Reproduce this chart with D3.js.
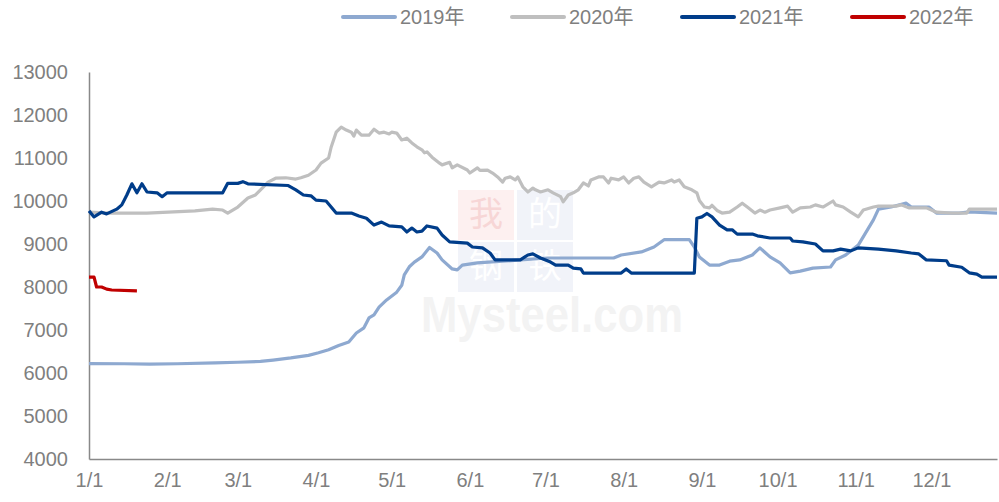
<!DOCTYPE html>
<html>
<head>
<meta charset="utf-8">
<script src="https://cdn.jsdelivr.net/npm/d3@7/dist/d3.min.js"></script>
<style>
  html, body { margin: 0; padding: 0; background: #fff; }
  svg { display: block; }
  text { font-family: "Liberation Sans", Arial, "Noto Sans CJK SC", sans-serif; }
</style>
</head>
<body>
<svg id="chart" width="999" height="502"></svg>
<script>
// ---------------- data ----------------
const seriesNames = ["2019年", "2020年", "2021年", "2022年"];
const yTicks = [4000, 5000, 6000, 7000, 8000, 9000, 10000, 11000, 12000, 13000];
const xTickLabels = ["01-01","02-01","03-01","04-01","05-01","06-01","07-01","08-01","09-01","10-01","11-01","12-01"];

const s2019 = [
  ["01-01",6220],["01-15",6215],["01-25",6205],["02-05",6215],["02-20",6235],["03-01",6250],
  ["03-10",6270],["03-15",6300],["03-22",6350],["03-29",6410],["04-02",6470],["04-06",6540],
  ["04-10",6640],["04-14",6720],["04-17",6930],["04-20",7050],["04-22",7280],["04-24",7350],
  ["04-26",7530],["04-29",7700],["05-03",7880],["05-05",8040],["05-06",8280],["05-08",8470],
  ["05-10",8580],["05-13",8700],["05-16",8920],["05-19",8790],["05-21",8630],["05-25",8420],
  ["05-27",8400],["05-29",8510],["06-04",8560],["06-21",8630],["07-02",8675],["07-28",8675],
  ["07-31",8745],["08-08",8815],["08-13",8930],["08-17",9100],["08-27",9100],["08-29",8930],
  ["08-31",8700],["09-04",8510],["09-08",8510],["09-12",8600],["09-16",8630],["09-19",8700],
  ["09-21",8745],["09-24",8910],["09-28",8700],["10-02",8560],["10-06",8330],["10-10",8370],
  ["10-15",8440],["10-22",8465],["10-24",8630],["10-28",8745],["11-02",8975],["11-08",9560],
  ["11-10",9810],["11-15",9860],["11-21",9950],["11-23",9860],["11-30",9860],["12-03",9720],
  ["12-12",9720],["12-16",9745],["12-27",9720]
];

const s2020 = [
  ["01-01",9740],["01-09",9720],["01-24",9720],["02-12",9770],["02-19",9810],["02-23",9790],
  ["02-25",9720],["03-01",9860],["03-05",10070],["03-08",10140],["03-10",10260],["03-13",10440],
  ["03-16",10530],["03-20",10540],["03-24",10510],["03-26",10540],["03-29",10600],["04-01",10720],
  ["04-03",10880],["04-06",11000],["04-07",11250],["04-09",11600],["04-11",11720],["04-13",11650],
  ["04-15",11600],["04-16",11510],["04-17",11650],["04-19",11530],["04-22",11530],["04-24",11670],
  ["04-26",11580],["04-28",11600],["04-30",11560],["05-01",11600],["05-03",11580],["05-05",11420],
  ["05-07",11460],["05-09",11350],["05-11",11260],["05-13",11190],["05-14",11120],["05-15",11140],
  ["05-17",11020],["05-20",10880],["05-21",10840],["05-24",10900],["05-25",10770],["05-27",10840],
  ["05-31",10720],["06-01",10650],["06-04",10770],["06-05",10710],["06-08",10720],["06-10",10650],
  ["06-12",10560],["06-14",10440],["06-15",10530],["06-17",10560],["06-19",10490],["06-20",10560],
  ["06-22",10330],["06-24",10210],["06-26",10300],["06-27",10260],["06-29",10210],["07-02",10260],
  ["07-04",10190],["07-07",10100],["07-08",9980],["07-10",10140],["07-12",10190],["07-14",10260],
  ["07-16",10420],["07-18",10350],["07-19",10490],["07-22",10560],["07-24",10560],["07-26",10420],
  ["07-27",10530],["07-30",10490],["08-01",10560],["08-03",10420],["08-05",10530],["08-07",10560],
  ["08-09",10440],["08-12",10330],["08-15",10440],["08-17",10420],["08-20",10490],["08-21",10440],
  ["08-23",10490],["08-25",10330],["08-28",10260],["08-30",10190],["08-31",10010],["09-02",9860],
  ["09-04",9840],["09-05",9900],["09-07",9780],["09-09",9720],["09-12",9740],["09-15",9860],
  ["09-17",9950],["09-19",9860],["09-22",9720],["09-24",9790],["09-26",9740],["09-28",9790],
  ["10-02",9840],["10-05",9880],["10-07",9740],["10-10",9840],["10-14",9860],["10-16",9910],
  ["10-19",9860],["10-23",10000],["10-24",9910],["10-27",9860],["10-30",9740],["11-02",9630],
  ["11-04",9790],["11-08",9860],["11-10",9880],["11-17",9880],["11-19",9910],["11-22",9840],
  ["11-29",9840],["12-03",9740],["12-09",9720],["12-15",9720],["12-16",9810],["12-27",9810]
];

const s2021 = [
  ["01-01",9770],["01-03",9630],["01-06",9740],["01-08",9700],["01-12",9810],["01-14",9910],
  ["01-16",10140],["01-18",10400],["01-20",10190],["01-22",10400],["01-24",10210],["01-28",10190],
  ["01-30",10100],["02-01",10190],["02-23",10190],["02-25",10410],["03-01",10410],["03-03",10450],
  ["03-05",10400],["03-21",10360],["03-24",10260],["03-27",10140],["03-30",10120],["04-01",10020],
  ["04-05",10000],["04-07",9860],["04-09",9720],["04-15",9720],["04-18",9650],["04-21",9600],
  ["04-24",9440],["04-27",9510],["04-30",9420],["05-05",9400],["05-07",9280],["05-09",9370],
  ["05-11",9280],["05-13",9300],["05-15",9420],["05-19",9370],["05-21",9210],["05-24",9050],
  ["05-31",9020],["06-02",8930],["06-06",8910],["06-09",8790],["06-11",8630],["06-21",8630],
  ["06-24",8745],["06-26",8770],["06-29",8675],["07-03",8580],["07-05",8510],["07-10",8510],
  ["07-12",8440],["07-15",8420],["07-16",8325],["07-31",8325],["08-02",8420],["08-04",8325],
  ["08-29",8325],["08-30",9600],["09-01",9630],["09-03",9710],["09-05",9630],["09-08",9440],
  ["09-11",9330],["09-13",9330],["09-15",9230],["09-21",9230],["09-23",9190],["09-28",9140],
  ["10-06",9140],["10-07",9070],["10-11",9050],["10-16",9000],["10-19",8840],["10-23",8840],
  ["10-26",8880],["10-30",8840],["11-02",8910],["11-10",8880],["11-17",8840],["11-23",8790],
  ["11-26",8770],["11-29",8630],["12-07",8610],["12-08",8510],["12-13",8460],["12-16",8330],
  ["12-19",8300],["12-21",8230],["12-27",8230]
];

const s2022 = [
  ["01-01",8230],["01-03",8230],["01-04",8000],["01-06",8000],["01-08",7950],["01-10",7930],["01-20",7910]
];

const seriesData = [s2019, s2020, s2021, s2022];
const seriesColors = ["#8EA9D0", "#BFBFBF", "#003D8A", "#C00000"];

// ---------------- chart ----------------
const W = 999, H = 502;
const margin = {left: 89, right: 2, top: 72, bottom: 43};
const parse = s => d3.timeParse("%Y-%m-%d")("2021-" + s);

const svg = d3.select("#chart");

const x = d3.scaleTime()
  .domain([parse("01-01"), parse("12-27")])
  .range([margin.left, W - margin.right]);
const y = d3.scaleLinear()
  .domain([4000, 13000])
  .range([H - margin.bottom, margin.top]);

// watermark (very faint, behind the lines)
const wm = svg.append("g").attr("class", "watermark");
const cells = [
  {c: "我", col: 0, row: 0, bg: "#FDF0F0", fg: "#F7D6D6"},
  {c: "的", col: 1, row: 0, bg: "#F1F3F9", fg: "#FFFFFF"},
  {c: "钢", col: 0, row: 1, bg: "#F1F3F9", fg: "#FFFFFF"},
  {c: "铁", col: 1, row: 1, bg: "#F1F3F9", fg: "#FFFFFF"}
];
wm.selectAll("rect").data(cells).join("rect")
  .attr("x", d => 458 + d.col * 59)
  .attr("y", d => 190 + d.row * 52)
  .attr("width", 56).attr("height", 50)
  .attr("fill", d => d.bg);
wm.selectAll("text.cjk").data(cells).join("text")
  .attr("class", "cjk")
  .attr("x", d => 458 + d.col * 59 + 28)
  .attr("y", d => 190 + d.row * 52 + 36)
  .attr("text-anchor", "middle")
  .style("font-family", "'Noto Sans CJK SC', sans-serif")
  .style("font-size", "34px")
  .attr("fill", d => d.fg)
  .text(d => d.c);
wm.append("text")
  .attr("x", 421).attr("y", 332)
  .style("font-size", "50px")
  .style("font-weight", "bold")
  .attr("fill", "#F3F3F3")
  .attr("textLength", 262)
  .attr("lengthAdjust", "spacingAndGlyphs")
  .text("Mysteel.com");

// axes
const axisColor = "#898989";
const labelColor = "#7F7F7F";

const xAxis = d3.axisBottom(x)
  .tickValues(xTickLabels.map(parse))
  .tickFormat(d3.timeFormat("%-m/%-d"))
  .tickSize(0)
  .tickPadding(14);
const gx = svg.append("g")
  .attr("transform", `translate(0,${H - margin.bottom})`)
  .call(xAxis);
gx.select(".domain").attr("stroke", axisColor).attr("stroke-width", 1.5);
gx.selectAll("text").attr("fill", labelColor).style("font-size", "20px");

const yAxis = d3.axisLeft(y)
  .tickValues(yTicks)
  .tickFormat(d3.format("d"))
  .tickSize(0)
  .tickPadding(21);
const gy = svg.append("g")
  .attr("transform", `translate(${margin.left},0)`)
  .call(yAxis);
gy.select(".domain").attr("stroke", axisColor).attr("stroke-width", 1.5);
gy.selectAll("text").attr("fill", labelColor).style("font-size", "20px");

// lines
const line = d3.line()
  .x(d => x(parse(d[0])))
  .y(d => y(d[1]));

svg.append("g").selectAll("path")
  .data(seriesData)
  .join("path")
  .attr("d", line)
  .attr("fill", "none")
  .attr("stroke", (d, i) => seriesColors[i])
  .attr("stroke-width", 3.2)
  .attr("stroke-linejoin", "round");

// legend
const legendX = [343, 512, 682, 852];
const lg = svg.append("g");
const items = lg.selectAll("g").data(seriesNames).join("g")
  .attr("transform", (d, i) => `translate(${legendX[i]},17)`);
items.append("line")
  .attr("x1", 0).attr("x2", 52).attr("y1", 0).attr("y2", 0)
  .attr("stroke", (d, i) => seriesColors[i])
  .attr("stroke-width", 4)
  .attr("stroke-linecap", "round");
items.append("text")
  .attr("x", 57).attr("y", 7)
  .attr("fill", labelColor)
  .style("font-size", "20px")
  .text(d => d);
</script>
</body>
</html>
